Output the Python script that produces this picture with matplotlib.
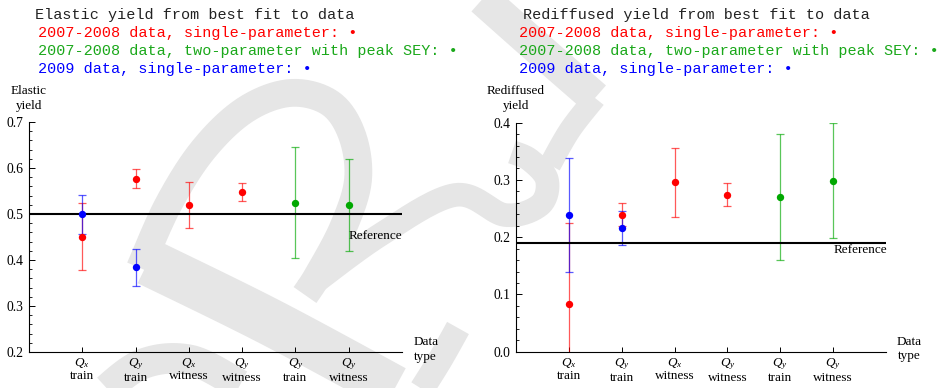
import numpy as np
import matplotlib
matplotlib.use("Agg")
import matplotlib.pyplot as plt

plt.rcParams['font.family'] = 'Liberation Serif'
plt.rcParams['mathtext.fontset'] = 'custom'
plt.rcParams['mathtext.rm'] = 'Liberation Serif'
plt.rcParams['mathtext.it'] = 'Liberation Serif:italic'

# ---------- data ----------
cat_pos = [1, 2, 3, 4, 5, 6]
cat_labels = ["$Q_x$\ntrain", "$Q_y$\ntrain", "$Q_x$\nwitness",
              "$Q_y$\nwitness", "$Q_y$\ntrain", "$Q_y$\nwitness"]

# elastic yield
el_red_x = [1, 2, 3, 4]
el_red_y = [0.451, 0.577, 0.519, 0.548]
el_red_e = [0.072, 0.020, 0.050, 0.020]
el_green_x = [5, 6]
el_green_y = [0.525, 0.520]
el_green_e = [0.120, 0.100]
el_blue_x = [1, 2]
el_blue_y = [0.499, 0.384]
el_blue_e = [0.042, 0.040]
el_ref = 0.5

# rediffused yield
rd_red_x = [1, 2, 3, 4]
rd_red_y = [0.084, 0.239, 0.296, 0.274]
rd_red_e = [0.141, 0.020, 0.060, 0.020]
rd_green_x = [5, 6]
rd_green_y = [0.271, 0.299]
rd_green_e = [0.110, 0.100]
rd_blue_x = [1, 2]
rd_blue_y = [0.239, 0.216]
rd_blue_e = [0.100, 0.030]
rd_ref = 0.19

RED, GREEN, BLUE = '#ff0000', '#00a800', '#0000ff'
W, H = 943, 388

fig = plt.figure(figsize=(W / 100, H / 100), dpi=100)

# ---------- big grey letter behind everything ----------
bg = fig.add_axes([0, 0, 1, 1], zorder=-5)
bg.set_xlim(0, W); bg.set_ylim(H, 0); bg.axis('off')
wm = dict(color='#e6e6e6', solid_capstyle='butt', solid_joinstyle='round')

def spline(pts, n=20):
    # catmull-rom through the given points
    p = np.array(pts, float)
    p = np.vstack([p[0], p, p[-1]])
    out = []
    t = np.linspace(0, 1, n)[:, None]
    for i in range(1, len(p) - 2):
        p0, p1, p2, p3 = p[i - 1], p[i], p[i + 1], p[i + 2]
        out.append(0.5 * (2 * p1 + (-p0 + p2) * t + (2 * p0 - 5 * p1 + 4 * p2 - p3) * t ** 2
                          + (-p0 + 3 * p1 - 3 * p2 + p3) * t ** 3))
    return np.vstack(out)

def stroke(pts, lw):
    c = spline(pts)
    bg.plot(c[:, 0], c[:, 1], lw=lw, **wm)

# bowl of the letter
stroke([(140, 268), (168, 205), (203, 150), (245, 110), (290, 93), (330, 103),
        (352, 135), (358, 180), (343, 228), (318, 275), (305, 295)], 20)
stroke([(150, 245), (175, 195), (205, 150)], 14)
# leg
stroke([(148, 262), (270, 322), (400, 392)], 34)
stroke([(458, 328), (440, 360), (420, 392)], 18)
# arm running right into the second letter
stroke([(305, 290), (380, 235), (455, 195), (505, 215), (540, 205), (547, 180),
        (530, 160), (512, 152)], 17)
# top stroke
stroke([(478, -5), (540, 50), (595, 98)], 24)
stroke([(595, 98), (570, 130), (550, 165)], 16)
# bottom left
stroke([(95, 400), (140, 365), (190, 360), (240, 385)], 22)

# ---------- panels ----------
def panel(rect, ylim, major, rx, ry, re, gx, gy, ge, bx, by, be, ref, ref_lab_y, ylab):
    ax = fig.add_axes(rect)
    ax.patch.set_alpha(0)
    ax.set_xlim(0, 7)
    ax.set_ylim(*ylim)
    for s in ['top', 'right']:
        ax.spines[s].set_visible(False)
    for s in ['left', 'bottom']:
        ax.spines[s].set_linewidth(0.8)
    ax.set_yticks(np.arange(ylim[0], ylim[1] + 1e-9, major))
    ax.set_yticks(np.arange(ylim[0], ylim[1] + 1e-9, major / 5), minor=True)
    ax.yaxis.set_major_formatter(plt.FormatStrFormatter('%.1f'))
    ax.set_xticks(cat_pos)
    ax.set_xticklabels(cat_labels, linespacing=1.0)
    ax.tick_params(axis='y', which='major', direction='in', length=4.5, width=0.7,
                   labelsize=9.8, pad=4)
    ax.tick_params(axis='y', which='minor', direction='in', length=2.5, width=0.6)
    ax.tick_params(axis='x', which='major', direction='in', length=3.5, width=0.7,
                   labelsize=9.5, pad=3)

    eb = dict(fmt='none', elinewidth=0.9, capsize=2.8, capthick=0.9, alpha=0.65, zorder=2)
    ax.errorbar(rx, ry, yerr=re, ecolor=RED, **eb)
    ax.errorbar(gx, gy, yerr=ge, ecolor=GREEN, **eb)
    ax.errorbar(bx, by, yerr=be, ecolor=BLUE, **eb)
    ax.axhline(ref, color='black', lw=1.5, zorder=3)
    mk = dict(ls='none', marker='o', ms=5.3, mew=0, zorder=4, clip_on=False)
    ax.plot(rx, ry, color=RED, **mk)
    ax.plot(gx, gy, color=GREEN, **mk)
    ax.plot(bx, by, color=BLUE, **mk)

    ax.text(6, ref_lab_y, "Reference", ha='left', va='center', fontsize=9.5, zorder=5)
    ax.text(0, 1.045, ylab, transform=ax.transAxes, ha='center', va='bottom',
            fontsize=9.5, linespacing=1.35, multialignment='center')
    ax.text(1.03, 0.012, "Data\ntype", transform=ax.transAxes, ha='left', va='center',
            fontsize=9.5, linespacing=1.3, multialignment='center')
    return ax

panel([29 / W, 36 / H, 373 / W, 230 / H], (0.2, 0.7), 0.1,
      el_red_x, el_red_y, el_red_e, el_green_x, el_green_y, el_green_e,
      el_blue_x, el_blue_y, el_blue_e, el_ref, 0.452, "Elastic\nyield")
panel([516 / W, 36.3 / H, 370 / W, 229 / H], (0.0, 0.4), 0.1,
      rd_red_x, rd_red_y, rd_red_e, rd_green_x, rd_green_y, rd_green_e,
      rd_blue_x, rd_blue_y, rd_blue_e, rd_ref, 0.178, "Rediffused\nyield")

# ---------- headers ----------
mono = dict(family='Liberation Mono', fontsize=10.9, va='center', ha='left')
def header(x0, x1, title):
    fig.text(x0 / W, 1 - 15 / H, title, color='#222222', **mono)
    fig.text(x1 / W, 1 - 33 / H, "2007-2008 data, single-parameter: \u2022", color=RED, **mono)
    fig.text(x1 / W, 1 - 51 / H, "2007-2008 data, two-parameter with peak SEY: \u2022",
             color='#1aa81a', **mono)
    fig.text(x1 / W, 1 - 69 / H, "2009 data, single-parameter: \u2022", color=BLUE, **mono)

header(35, 38, "Elastic yield from best fit to data")
header(523, 519, "Rediffused yield from best fit to data")

fig.savefig("out.png", dpi=100)
